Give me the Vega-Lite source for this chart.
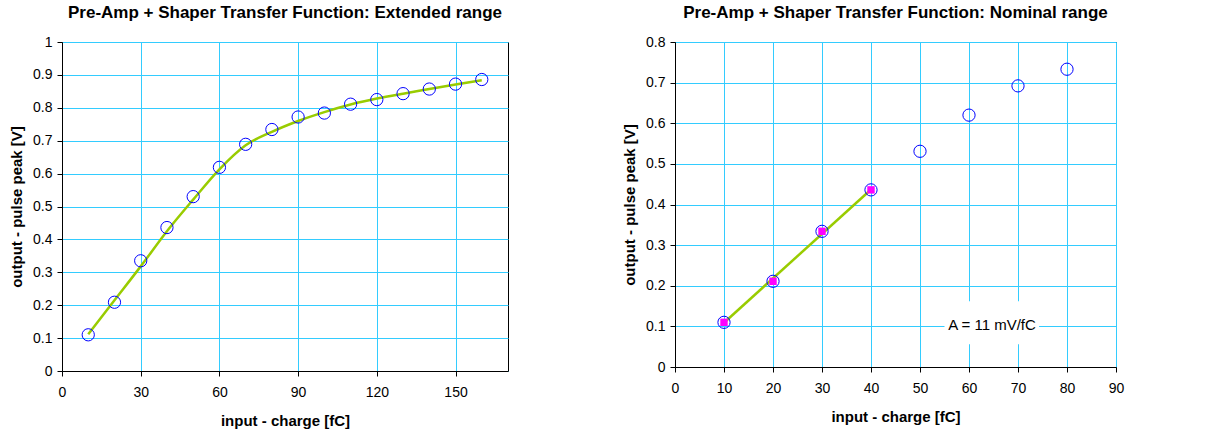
{
  "$schema": "https://vega.github.io/schema/vega-lite/v6.json",
  "background": "white",
  "padding": {"left": 9, "top": 3, "right": 5, "bottom": 5},
  "spacing": 167,
  "bounds": "flush",
  "config": {
    "font": "Liberation Sans",
    "view": {"stroke": "#000000", "strokeWidth": 1},
    "axis": {
      "labelFont": "Liberation Sans", "labelFontSize": 14, "labelColor": "#000000",
      "titleFont": "Liberation Sans", "titleFontSize": 15, "titleFontWeight": "bold", "titleColor": "#000000",
      "domainColor": "#000000", "domainWidth": 1, "tickColor": "#000000", "tickSize": 5,
      "gridColor": "#33CCFF", "gridOpacity": 1, "gridWidth": 1
    },
    "title": {"font": "Liberation Sans", "fontSize": 17, "fontWeight": "bold", "color": "#000000", "anchor": "middle", "offset": 13}
  },
  "datasets": {
    "measured_ext": [
      {"q": 10, "v": 0.11}, {"q": 20, "v": 0.209}, {"q": 30, "v": 0.335}, {"q": 40, "v": 0.436},
      {"q": 50, "v": 0.53}, {"q": 60, "v": 0.619}, {"q": 70, "v": 0.689}, {"q": 80, "v": 0.734},
      {"q": 90, "v": 0.772}, {"q": 100, "v": 0.784}, {"q": 110, "v": 0.811}, {"q": 120, "v": 0.825},
      {"q": 130, "v": 0.843}, {"q": 140, "v": 0.857}, {"q": 150, "v": 0.872}, {"q": 160, "v": 0.886}
    ],
    "fit_ext": [
      {"q": 10, "v": 0.112}, {"q": 20, "v": 0.215}, {"q": 30, "v": 0.318}, {"q": 40, "v": 0.425},
      {"q": 50, "v": 0.521}, {"q": 60, "v": 0.613}, {"q": 70, "v": 0.686}, {"q": 80, "v": 0.727},
      {"q": 90, "v": 0.76}, {"q": 100, "v": 0.787}, {"q": 110, "v": 0.81}, {"q": 120, "v": 0.828},
      {"q": 130, "v": 0.843}, {"q": 140, "v": 0.857}, {"q": 150, "v": 0.871}, {"q": 160, "v": 0.884}
    ],
    "measured_nom": [
      {"q": 10, "v": 0.11}, {"q": 20, "v": 0.211}, {"q": 30, "v": 0.334}, {"q": 40, "v": 0.436},
      {"q": 50, "v": 0.531}, {"q": 60, "v": 0.62}, {"q": 70, "v": 0.692}, {"q": 80, "v": 0.733}
    ],
    "fit_points": [
      {"q": 10, "v": 0.11}, {"q": 20, "v": 0.211}, {"q": 30, "v": 0.334}, {"q": 40, "v": 0.436}
    ],
    "fit_nom": [
      {"q": 10, "v": 0.109}, {"q": 40, "v": 0.437}
    ],
    "note_box": [
      {"q": 55.0, "q2": 74.3, "v": 0.056, "v2": 0.162}
    ],
    "note_text": [
      {"q": 64.7, "v": 0.104, "label": "A = 11 mV/fC"}
    ]
  },
  "hconcat": [
    {
      "width": 446,
      "height": 329,
      "title": "Pre-Amp + Shaper Transfer Function: Extended range",
      "encoding": {
        "x": {"field": "q", "type": "quantitative",
              "scale": {"domain": [0, 170], "nice": false, "zero": false},
              "axis": {"values": [0, 30, 60, 90, 120, 150], "title": "input - charge [fC]", "labelPadding": 9, "titlePadding": 14, "labelFlush": false}},
        "y": {"field": "v", "type": "quantitative",
              "scale": {"domain": [0, 1], "nice": false},
              "axis": {"values": [0, 0.1, 0.2, 0.3, 0.4, 0.5, 0.6, 0.7, 0.8, 0.9, 1], "format": "~g", "title": "output - pulse peak [V]", "labelPadding": 5, "titlePadding": 8, "labelFlush": false}}
      },
      "layer": [
        {"data": {"name": "fit_ext"}, "mark": {"type": "line", "color": "#99CC00", "strokeWidth": 2.5, "interpolate": "monotone"}},
        {"data": {"name": "measured_ext"}, "mark": {"type": "point", "shape": "circle", "filled": false, "color": "#0000FF", "size": 150, "strokeWidth": 1, "opacity": 1}}
      ]
    },
    {
      "width": 441,
      "height": 325,
      "title": "Pre-Amp + Shaper Transfer Function: Nominal range",
      "encoding": {
        "x": {"field": "q", "type": "quantitative",
              "scale": {"domain": [0, 90], "nice": false},
              "axis": {"values": [0, 10, 20, 30, 40, 50, 60, 70, 80, 90], "title": "input - charge [fC]", "labelPadding": 9, "titlePadding": 14, "labelFlush": false}},
        "y": {"field": "v", "type": "quantitative",
              "scale": {"domain": [0, 0.8], "nice": false},
              "axis": {"values": [0, 0.1, 0.2, 0.3, 0.4, 0.5, 0.6, 0.7, 0.8], "format": "~g", "title": "output - pulse peak [V]", "labelPadding": 5, "titlePadding": 8, "labelFlush": false}}
      },
      "layer": [
        {"data": {"name": "note_box"}, "mark": {"type": "rect", "fill": "#FFFFFF", "stroke": null},
         "encoding": {"x2": {"field": "q2"}, "y2": {"field": "v2"}}},
        {"data": {"name": "note_text"}, "mark": {"type": "text", "fontSize": 15, "font": "Liberation Sans", "color": "#000000", "align": "center", "baseline": "middle"},
         "encoding": {"text": {"field": "label"}}},
        {"data": {"name": "fit_nom"}, "mark": {"type": "line", "color": "#99CC00", "strokeWidth": 2.5}},
        {"data": {"name": "fit_points"}, "mark": {"type": "point", "shape": "square", "filled": true, "color": "#FF00FF", "size": 55, "opacity": 1}},
        {"data": {"name": "measured_nom"}, "mark": {"type": "point", "shape": "circle", "filled": false, "color": "#0000FF", "size": 150, "strokeWidth": 1, "opacity": 1}}
      ]
    }
  ]
}
